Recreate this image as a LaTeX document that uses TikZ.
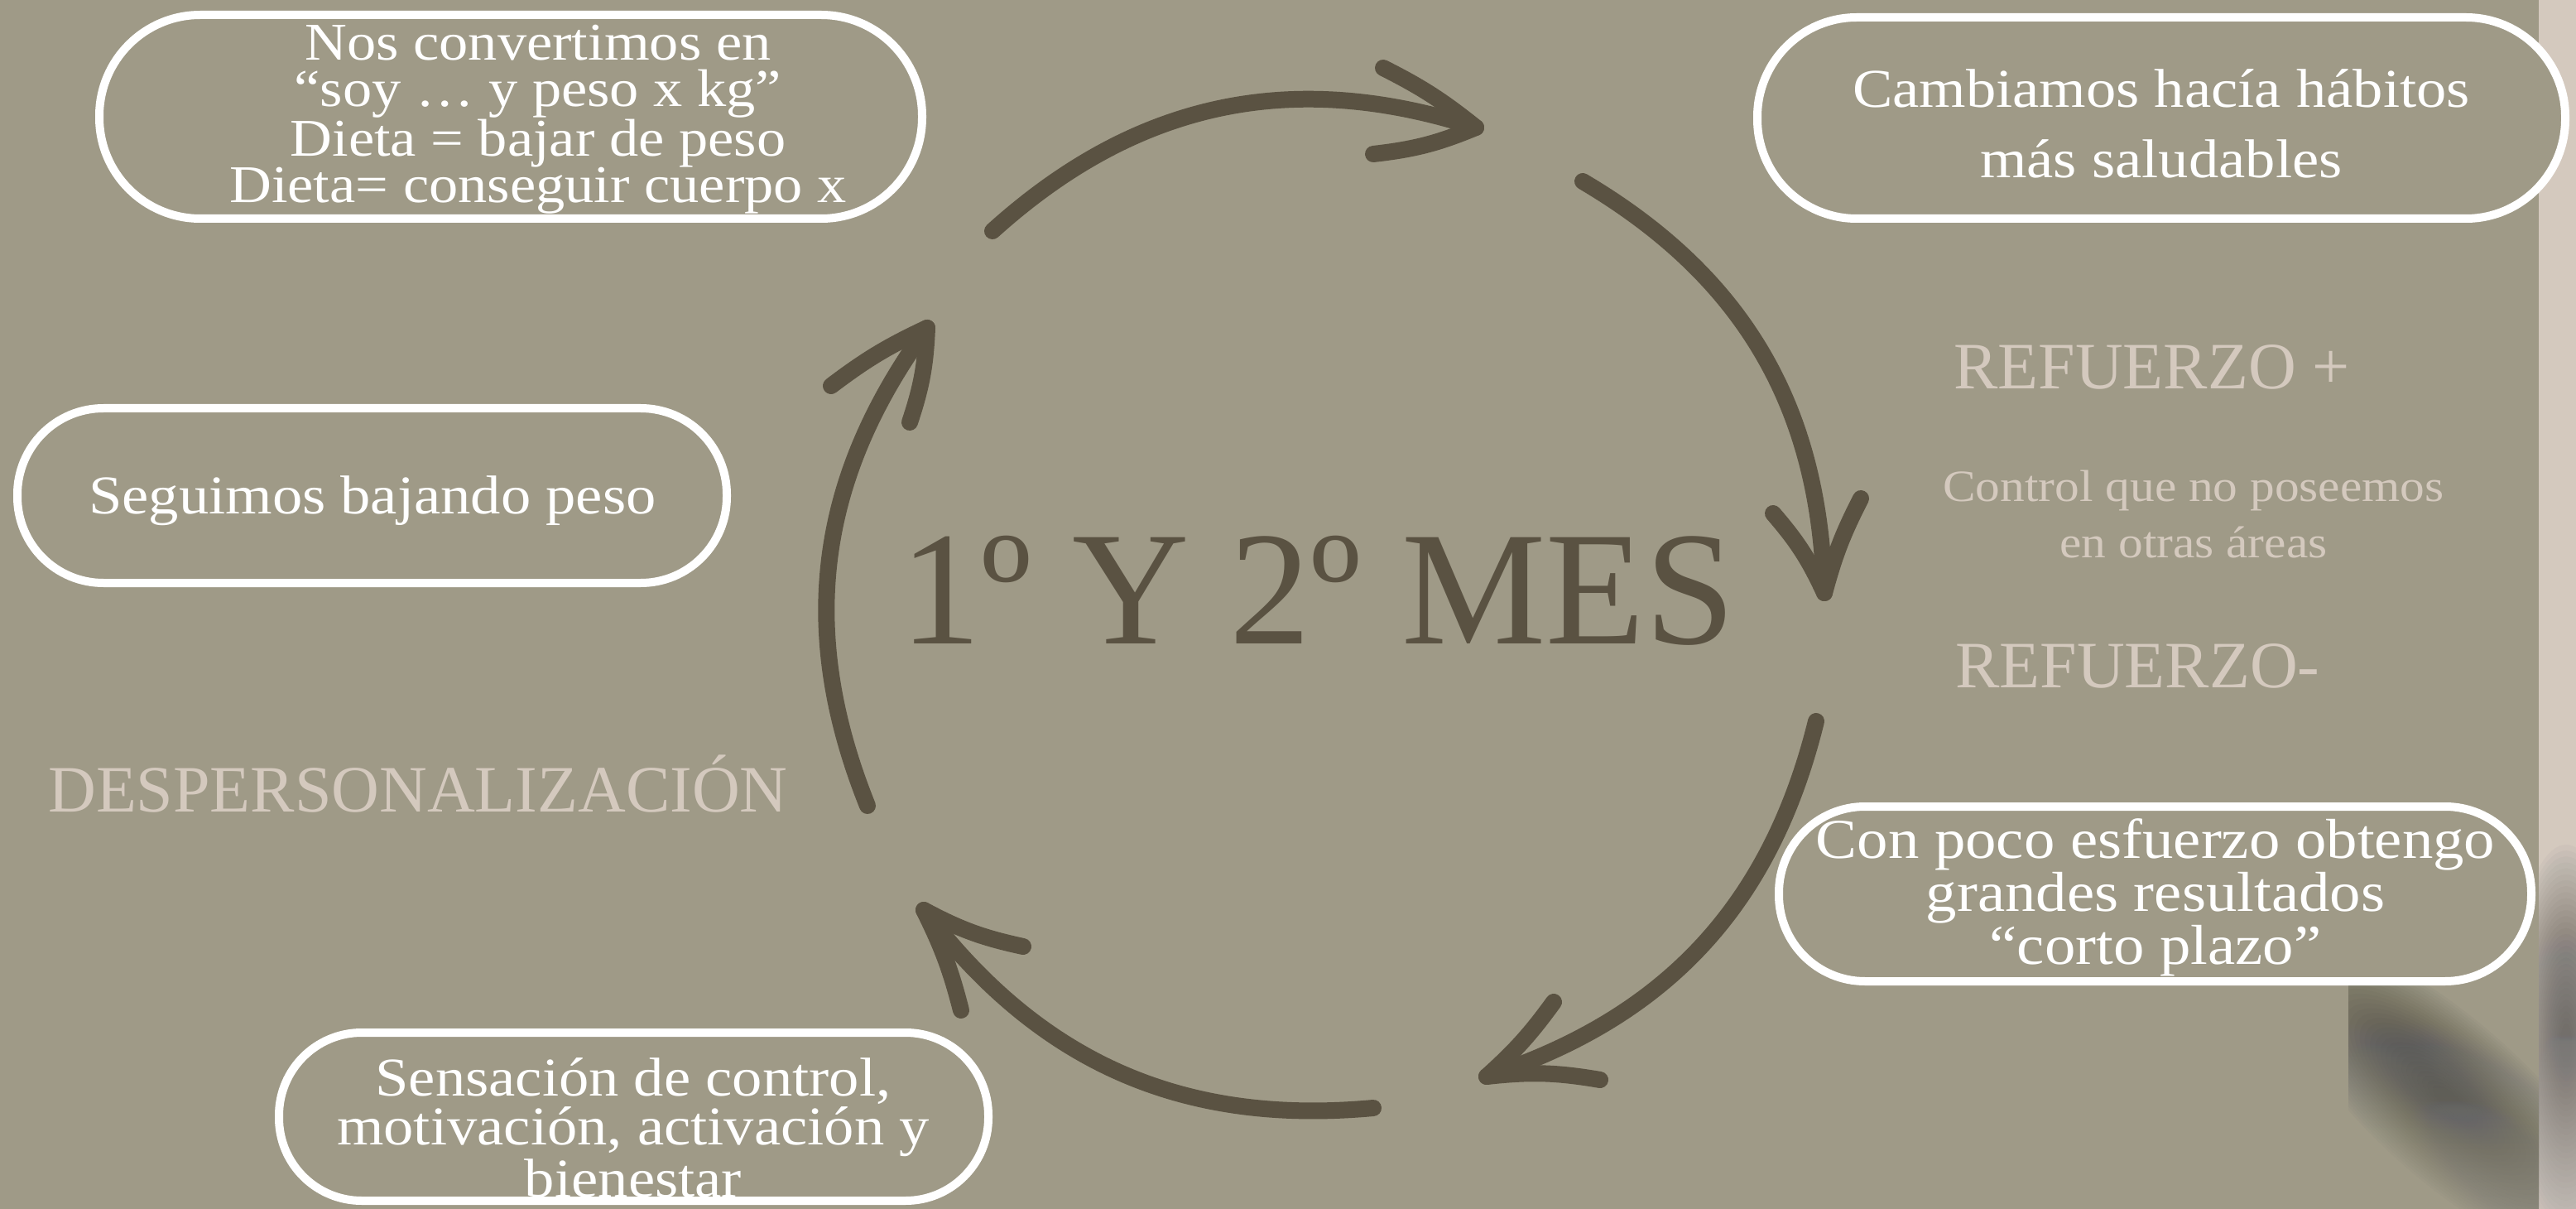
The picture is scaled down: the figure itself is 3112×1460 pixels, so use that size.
\documentclass[tikz,border=0pt]{standalone}
\usepackage{fontspec}
\setmainfont{Liberation Serif}
\newfontfamily\lora[FakeStretch=1.1]{Liberation Serif}
\definecolor{bg}{HTML}{9F9A87}
\definecolor{ink}{HTML}{5A5242}
\definecolor{pale}{HTML}{D4C9BE}
\definecolor{stripc}{HTML}{D4C9BE}
\definecolor{shade}{HTML}{6E6A5A}
\begin{document}
\begin{tikzpicture}[x=0.5pt,y=0.5pt,
  pill/.style={draw=white, line width=5pt, fill=bg},
  boxtext/.style={text=white, align=center, anchor=base, inner sep=0pt},
  paletext/.style={text=pale, align=center, inner sep=0pt},
  arr/.style={draw=ink, line width=10pt, line cap=round, line join=round},
]
% background
\fill[bg] (0,0) rectangle (3112,-1460);
\path[use as bounding box] (0,0) rectangle (3112,-1460);
\fill[stripc] (3067,0) rectangle (3112,-1460);
% soft shadow bottom right
\begin{scope}
  \clip (2837,-1185) rectangle (3067,-1460);
  \foreach \s in {1.0,0.97,...,0.1}
    \fill[shade, opacity=0.018, rotate around={-42:(2960,-1330)}]
      (2960,-1330) ellipse [x radius={270*\s}, y radius={95*\s}];
\end{scope}
\begin{scope}
  \clip (3067,-1000) rectangle (3112,-1460);
  \foreach \s in {1.0,0.97,...,0.1}
    \fill[shade, opacity=0.015] (3100,-1260) ellipse [x radius={70*\s}, y radius={240*\s}];
\end{scope}

% pills
\node[pill, minimum width=497pt, minimum height=123pt, rounded corners=61pt] (b1) at (617,-141) {};
\node[pill, minimum width=488pt, minimum height=121.5pt, rounded corners=60pt] (b2) at (2611,-142.5) {};
\node[pill, minimum width=454.5pt, minimum height=105.5pt, rounded corners=52pt] (b3) at (2603.5,-1079.5) {};
\node[pill, minimum width=428.5pt, minimum height=101.5pt, rounded corners=50pt] (b4) at (765.5,-1348.5) {};
\node[pill, minimum width=428.5pt, minimum height=105.5pt, rounded corners=52pt] (b5) at (449.5,-598.5) {};

% pill texts (base anchor = baseline of the last line)
\node[boxtext, font=\lora\fontsize{32pt}{28pt}\selectfont] (t1) at (650,-245)
  {Nos convertimos en\\“soy … y peso x kg”\\Dieta = bajar de peso\\Dieta= conseguir cuerpo x};
\node[boxtext, font=\lora\fontsize{33pt}{42.5pt}\selectfont] (t2) at (2611,-215)
  {Cambiamos hacía hábitos\\más saludables};
\node[boxtext, font=\lora\fontsize{34pt}{30pt}\selectfont] (t3) at (2604,-1164)
  {Con poco esfuerzo obtengo\\grandes resultados\\“corto plazo”};
\node[boxtext, font=\lora\fontsize{33pt}{29.5pt}\selectfont] (t4) at (765,-1445)
  {Sensación de control,\\motivación, activación y\\bienestar};
\node[boxtext, font=\lora\fontsize{33pt}{40pt}\selectfont] (t5) at (450,-620)
  {Seguimos bajando peso};

% pale texts
\node[paletext, anchor=base west, font=\fontsize{40pt}{48pt}\selectfont] (rp) at (2360,-470) {REFUERZO +};
\node[paletext, anchor=base, font=\lora\fontsize{27pt}{34pt}\selectfont] (ctl) at (2650,-673)
  {Control que no poseemos\\en otras áreas};
\node[paletext, anchor=base west, font=\fontsize{40pt}{48pt}\selectfont] (rm) at (2362,-830) {REFUERZO-};
\node[paletext, anchor=base, font=\fontsize{40pt}{48pt}\selectfont] (desp) at (505,-980) {DESPERSONALIZACIÓN};

% title
\node[text=ink, anchor=base, inner sep=0pt, font=\fontsize{98pt}{110pt}\selectfont] (title) at (1592,-777) {1º Y 2º MES};

% cycle arrows
\coordinate (s1) at (1199,-279); \coordinate (e1) at (1783,-154);
\coordinate (h1a) at (1671,-82); \coordinate (h1b) at (1659,-186);
\coordinate (s2) at (1912,-219); \coordinate (e2) at (2204,-716);
\coordinate (h2a) at (2142,-620); \coordinate (h2b) at (2248,-602);
\coordinate (s3) at (2194,-871); \coordinate (e3) at (1796,-1300);
\coordinate (h3a) at (1877,-1210); \coordinate (h3b) at (1933,-1304);
\coordinate (s4) at (1659,-1338); \coordinate (e4) at (1116,-1099);
\coordinate (h4a) at (1236,-1143); \coordinate (h4b) at (1161,-1220);
\coordinate (s5) at (1048,-973); \coordinate (e5) at (1120,-396);
\coordinate (h5a) at (1004,-466); \coordinate (h5b) at (1099,-510);

\draw[arr] (s1) to[bend left=30] (e1);
\draw[arr] (h1a) to[bend left=6] (e1) to[bend left=8] (h1b);
\draw[arr] (s2) to[bend left=29] (e2);
\draw[arr] (h2a) to[bend left=8] (e2) to[bend left=6] (h2b);
\draw[arr] (s3) to[bend left=29] (e3);
\draw[arr] (h3a) to[bend left=6] (e3) to[bend left=8] (h3b);
\draw[arr] (s4) to[bend left=29] (e4);
\draw[arr] (h4a) to[bend left=8] (e4) to[bend left=6] (h4b);
\draw[arr] (s5) to[bend left=29] (e5);
\draw[arr] (h5a) to[bend left=6] (e5) to[bend left=8] (h5b);
\end{tikzpicture}
\end{document}
